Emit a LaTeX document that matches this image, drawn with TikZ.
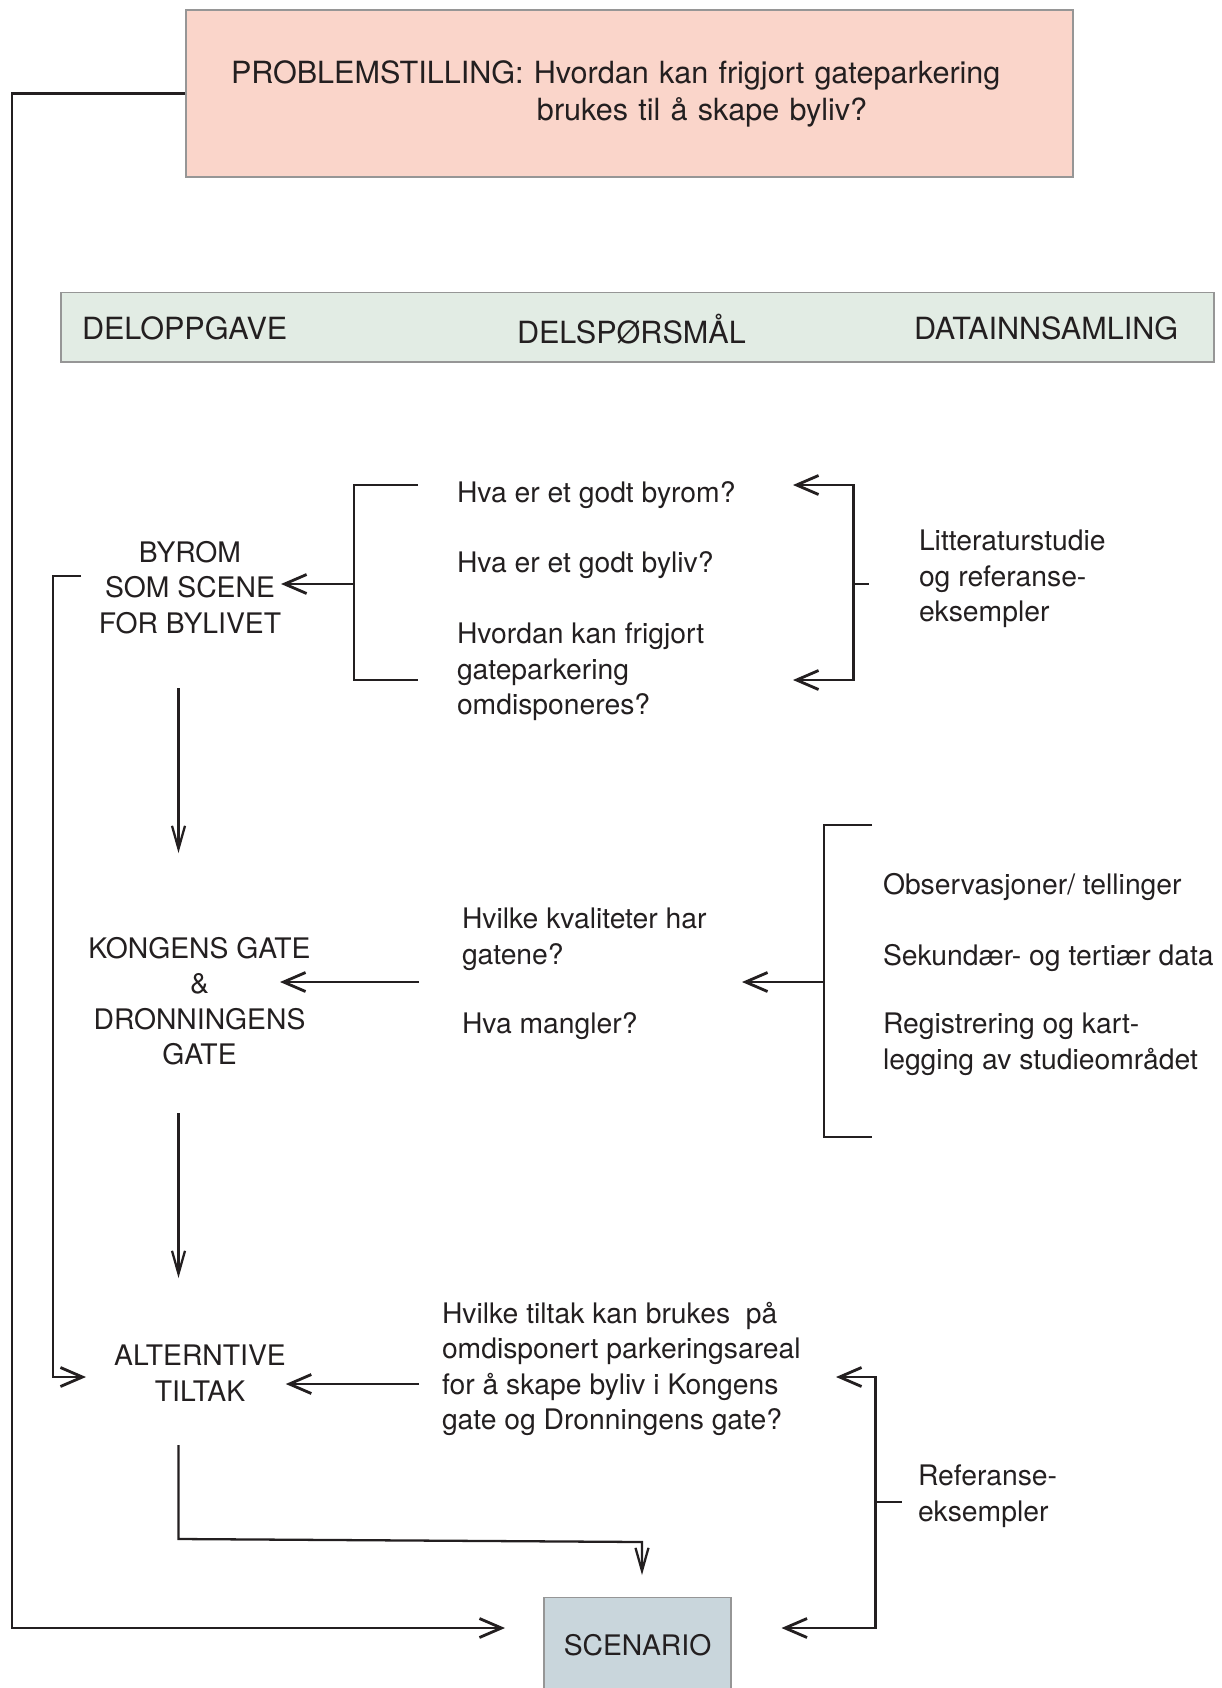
\documentclass[tikz,border=0pt]{standalone}
\usepackage{fontspec}
\setmainfont{TeX Gyre Heros}
\usetikzlibrary{arrows.meta}

\definecolor{probpink}{RGB}{250,213,202}
\definecolor{headgreen}{RGB}{226,236,228}
\definecolor{scengrey}{RGB}{201,214,220}
\definecolor{boxline}{RGB}{150,150,150}
\definecolor{ink}{RGB}{35,31,32}

\tikzset{
  txt/.style={inner sep=0pt, outer sep=0pt, align=left, anchor=north west,
    text=ink, font=\fontsize{8.05}{10.1}\selectfont},
  ctxt/.style={txt, align=center, anchor=north},
  big/.style={font=\fontsize{8.7}{10.5}\selectfont},
  harr/.style={-{Straight Barb[length=2.2mm,width=1.9mm]}, draw=ink, line width=0.8pt},
  varr/.style={-{Straight Barb[length=2.3mm,width=1.3mm]}, draw=ink, line width=0.65pt},
  brk/.style={draw=ink, line width=0.8pt},
}

\begin{document}
\begin{tikzpicture}[x=1cm,y=-1cm]
	\useasboundingbox (0,0) rectangle (12.22,16.88);
	% boxes
	\node[draw=boxline, fill=probpink, line width=0.3pt, big, text=ink, inner sep=0pt,
	  minimum width=8.87cm, minimum height=1.67cm, text width=7.97cm, align=left]
	  (prob) at (6.295,0.935)
	  {PROBLEMSTILLING: Hvordan kan frigjort gateparkering\\\hspace*{3.06cm}brukes til å skape byliv?};
	\node[draw=boxline, fill=headgreen, line width=0.3pt, inner sep=0pt,
	  minimum width=11.53cm, minimum height=0.695cm] (head) at (6.375,3.2725) {};
	\node[txt, big, anchor=base west] (hdtask) at (0.82,3.39) {DELOPPGAVE};
	\node[txt, big, anchor=base west] (hdques) at (5.17,3.43) {DELSPØRSMÅL};
	\node[txt, big, anchor=base west] (hddata) at (9.14,3.39) {DATAINNSAMLING};
	\node[draw=boxline, fill=scengrey, line width=0.3pt, inner xsep=0pt, inner ysep=0pt,
	  minimum width=1.87cm, text height=0.58cm, text depth=0.40cm, anchor=north, text=ink,
	  font=\fontsize{8.05}{10.1}\selectfont] (scen) at (6.375,15.97) {SCENARIO};

	% deloppgaver
	\node[ctxt] (byrom) at (1.90,5.41) {BYROM\\SOM SCENE\\FOR BYLIVET};
	\node[ctxt] (kong) at (1.995,9.37) {KONGENS GATE\\\&\\DRONNINGENS\\GATE};
	\node[ctxt] (alt) at (2.00,13.45) {ALTERNTIVE\\TILTAK};

	% delspoersmaal
	\node[txt] (qbyrom) at (4.57,4.82) {Hva er et godt byrom?};
	\node[txt] (qbyliv) at (4.57,5.52) {Hva er et godt byliv?};
	\node[txt] (qomdisp) at (4.57,6.23) {Hvordan kan frigjort\\gateparkering\\omdisponeres?};
	\node[txt] (qkval) at (4.62,9.08) {Hvilke kvaliteter har\\gatene?};
	\node[txt] (qmangler) at (4.62,10.13) {Hva mangler?};
	\node[txt] (qtiltak) at (4.42,13.02)
	  {Hvilke tiltak kan brukes\ \ på\\omdisponert parkeringsareal\\for å skape byliv i Kongens\\gate og Dronningens gate?};

	% datainnsamling
	\node[txt] (dlitt) at (9.19,5.30) {Litteraturstudie\\og referanse-\\eksempler};
	\node[txt] (dobs) at (8.83,8.73) {Observasjoner/ tellinger};
	\node[txt] (dsek) at (8.83,9.44) {Sekundær- og tertiær data};
	\node[txt] (dreg) at (8.83,10.13) {Registrering og kart-\\legging av studieområdet};
	\node[txt] (dref) at (9.18,14.65) {Referanse-\\eksempler};

	% connector ends
	\coordinate (outer) at (0.12,0.935);
	\coordinate (scenl) at (5.05,16.28);
	\coordinate (scenr) at (7.815,16.28);
	\coordinate (inner) at (0.81,5.76);
	\coordinate (altl) at (0.86,13.77);
	\coordinate (br1) at (3.54,5.84);
	\coordinate (lit) at (8.535,5.84);
	\coordinate (br2) at (4.19,9.82);
	\coordinate (kongtip) at (2.80,9.82);
	\coordinate (obs) at (8.24,9.82);
	\coordinate (br3) at (4.19,13.84);
	\coordinate (ref) at (8.755,15.02);

	% long lines on the left
	\draw[harr] (prob.west) -- (outer) -- (outer |- scenl) -- (scenl);
	\draw[harr] (inner) -- (0.53,5.76) -- (0.53,13.77) -- (altl);

	% first row
	\draw[brk] (4.18,4.85) -- (3.54,4.85) -- (3.54,6.80) -- (4.18,6.80);
	\draw[harr] (br1) -- (br1 -| byrom.east);
	\draw[harr] (lit) -- (8.535,4.85) -- (7.93,4.85);
	\draw[harr] (lit) -- (8.535,6.80) -- (7.93,6.80);
	\draw[brk] (lit) -- (8.69,5.84);
	\draw[varr] (1.785,6.88) -- (1.785,8.53);

	% second row
	\draw[harr] (br2) -- (kongtip);
	\draw[brk] (8.72,8.25) -- (8.24,8.25) -- (8.24,11.37) -- (8.72,11.37);
	\draw[harr] (obs) -- (7.42,9.82);
	\draw[varr] (1.785,11.13) -- (1.785,12.78);

	% third row
	\draw[harr] (br3) -- (br3 -| alt.east);
	\draw[harr] (ref) -- (8.755,13.77) -- (8.36,13.77);
	\draw[harr] (ref) -- (8.755,16.28) -- (scenr);
	\draw[brk] (ref) -- (9.02,15.02);
	\draw[varr] (1.785,14.45) -- (1.785,15.39) -- (6.42,15.42) -- (6.42,15.75);
\end{tikzpicture}
\end{document}
